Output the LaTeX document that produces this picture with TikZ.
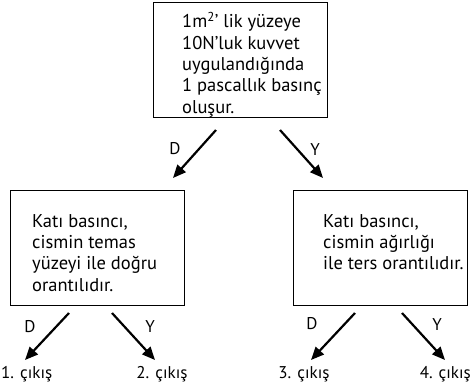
\documentclass[tikz,border=0pt]{standalone}
\usepackage{fontspec}
\setmainfont{PT Sans}
\usetikzlibrary{arrows.meta,calc}

\tikzset{
  kutu/.style={draw,line width=0.9pt,minimum width=174pt,minimum height=115pt,inner sep=0pt},
  yazi/.style={align=left,inner sep=0pt,anchor=base west,font=\fontsize{18.5}{21.3}\selectfont},
  etiket/.style={inner sep=0pt,font=\fontsize{17}{18}\selectfont},
  ok/.style={line width=2.2pt,-{Triangle[length=13pt,width=11pt]}}
}

\begin{document}
\begin{tikzpicture}[x=1pt,y=1pt]
\useasboundingbox (0,0) rectangle (472,-391);
% kutular
\node[kutu] (ust) at (240,-59.5) {};
\node[kutu] (sol) at (97,-247.5) {};
\node[kutu] (sag) at (380,-247.5) {};
% metinler (son satirin tabanina gore)
\node[yazi] (ustyazi) at (182,-113) {1m\textsuperscript{2}’ lik yüzeye\\10N’luk kuvvet\\uygulandığında\\1 pascallık basınç\\oluşur.};
\node[yazi] (solyazi) at (32,-291) {Katı basıncı,\\cismin temas\\yüzeyi ile doğru\\orantılıdır.};
\node[yazi] (sagyazi) at (323,-269.6) {Katı basıncı,\\cismin ağırlığı\\ile ters orantılıdır.};
% cikislar
\node[etiket,anchor=base west] (c1) at (1,-378) {1. çıkış};
\node[etiket,anchor=base] (c2) at (162,-378) {2. çıkış};
\node[etiket,anchor=base] (c3) at (304,-378) {3. çıkış};
\node[etiket,anchor=base east] (c4) at (471,-378) {4. çıkış};
% oklar
\coordinate (a1) at (216,-130); \coordinate (b1) at (173,-178);
\coordinate (a2) at (280,-130); \coordinate (b2) at (323,-178);
\coordinate (a3) at (69,-313);  \coordinate (b3) at (25,-360);
\coordinate (a4) at (112,-313); \coordinate (b4) at (155,-360);
\coordinate (a5) at (355,-313); \coordinate (b5) at (311,-360);
\coordinate (a6) at (402,-313); \coordinate (b6) at (445,-360);
\draw[ok] (a1) -- (b1);
\draw[ok] (a2) -- (b2);
\draw[ok] (a3) -- (b3);
\draw[ok] (a4) -- (b4);
\draw[ok] (a5) -- (b5);
\draw[ok] (a6) -- (b6);
\node[etiket] (d1) at (175,-149) {D};
\node[etiket] (y1) at (315,-150) {Y};
\node[etiket] (d2) at (30,-327) {D};
\node[etiket] (y2) at (150,-327) {Y};
\node[etiket] (d3) at (312,-324) {D};
\node[etiket] (y3) at (437,-325) {Y};
\end{tikzpicture}
\end{document}
